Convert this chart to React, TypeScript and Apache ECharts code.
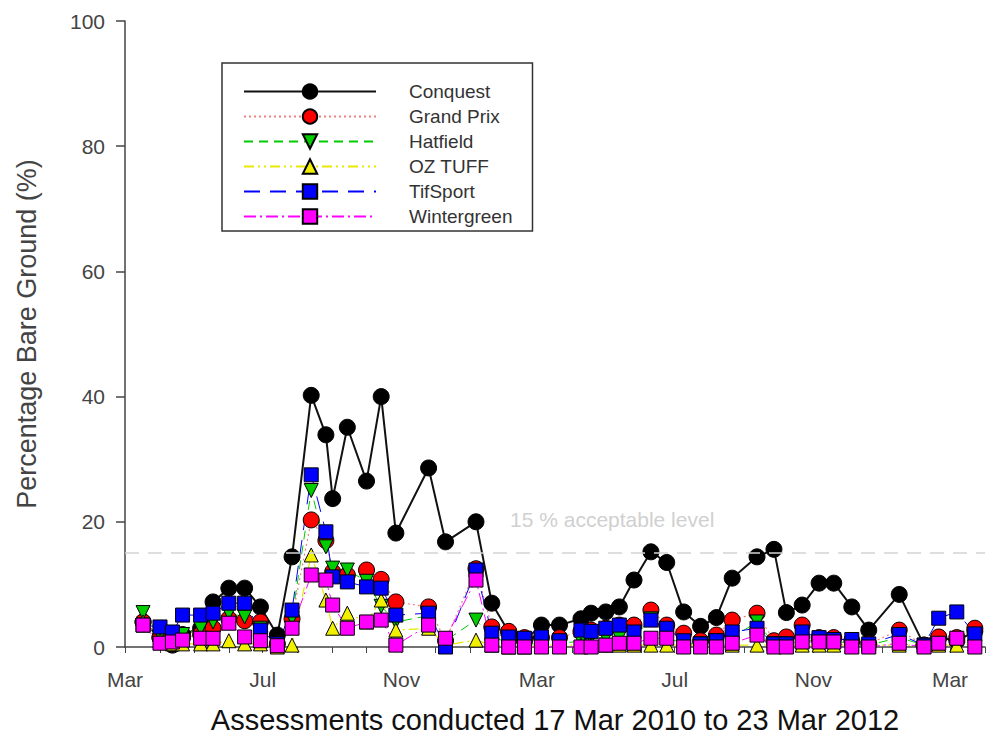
import { useEffect, useRef } from 'react';
import * as echarts from 'echarts';

// assessment dates, 17 Mar 2010 to 23 Mar 2012
const dates = [
  '2010-03-17', '2010-04-01', '2010-04-12', '2010-04-21', '2010-05-07', '2010-05-18', '2010-06-01', '2010-06-15',
  '2010-06-29', '2010-07-14', '2010-07-27', '2010-08-13', '2010-08-26', '2010-09-01', '2010-09-14', '2010-10-01',
  '2010-10-14', '2010-10-27', '2010-11-25', '2010-12-10', '2011-01-06', '2011-01-20', '2011-02-04', '2011-02-18',
  '2011-03-05', '2011-03-21', '2011-04-09', '2011-04-18', '2011-05-01', '2011-05-13', '2011-05-26', '2011-06-10',
  '2011-06-24', '2011-07-09', '2011-07-24', '2011-08-07', '2011-08-21', '2011-09-12', '2011-09-27', '2011-10-08',
  '2011-10-22', '2011-11-06', '2011-11-19', '2011-12-05', '2011-12-20', '2012-01-16', '2012-02-07', '2012-02-20',
  '2012-03-07', '2012-03-23',
];

const conquest = [
  4, 1.5, 0.3, 2, 3, 7.2, 9.4, 9.4, 6.4, 1.9,
  14.4, 40.2, 33.9, 23.7, 35.1, 26.5, 40, 18.2, 28.6, 16.8,
  20, 7.0, 2.4, 1, 3.5, 3.5, 4.5, 5.4, 5.6, 6.4,
  10.7, 15.2, 13.5, 5.6, 3.3, 4.7, 11.0, 14.4, 15.6, 5.5,
  6.7, 10.2, 10.2, 6.4, 2.7, 8.4, 0.3, 1.5, 1.0, 2.5,
];
const grandPrix = [
  4, 1.5, 1, 1.5, 2, 3.0, 4.5, 4.2, 4.0, 0.5,
  4.5, 20.3, 17, 12, 11.5, 12.3, 10.8, 7.2, 6.4, 1,
  12.5, 3.2, 2.5, 1.5, 1.5, 1.5, 2.5, 2.7, 3.0, 3.5,
  3.5, 5.9, 3.5, 2.2, 1, 1.9, 4.3, 5.4, 1, 1.6,
  3.5, 1.5, 1.5, 1, 0.5, 2.7, 0.3, 1.6, 1.5, 3.0,
];
const hatfield = [
  5.5, 2, 1.5, 2, 3, 4, 5.4, 4.8, 3, 0.5,
  4.6, 25, 16, 12.6, 12.3, 10.5, 6.5, 4, 5, 1,
  4.3, 1.5, 0.8, 0.5, 0.5, 0.5, 1, 1.5, 1.5, 1.5,
  1.5, 4.5, 1.5, 0.5, 0.5, 1, 1.5, 4.0, 0.5, 0.5,
  1, 1, 1, 0.5, 0.3, 1.5, 0.3, 0.5, 0.5, 1,
];
const ozTuff = [
  4, 1, 0.5, 0.5, 0.5, 0.5, 1, 0.5, 0.5, 0,
  0.3, 14.7, 7.5, 3, 5.4, 4, 7.5, 2.7, 3, 0.3,
  1.1, 0.3, 0, 0, 0.3, 0.3, 0.3, 0.3, 0.3, 0.3,
  0.3, 0.3, 0.3, 0.3, 0.3, 0.3, 0.3, 0.3, 0.3, 0.3,
  0.3, 0.3, 0.3, 0.3, 0.3, 0.3, 0.3, 0.3, 0.3, 0.5,
];
const tifSport = [
  3.5, 3.2, 2.4, 5.1, 5.1, 5.4, 7.0, 7.0, 2.7, 0.5,
  5.9, 27.5, 18.4, 11.2, 10.4, 9.6, 9.4, 5.1, 5.4, 0,
  12.3, 2.2, 1.6, 1.4, 1.6, 1.0, 2.7, 2.5, 3.0, 3.5,
  2.4, 4.3, 3.0, 1.0, 0.5, 1.0, 2.4, 3.0, 0.5, 0.5,
  2.4, 1.5, 1.2, 1.2, 0.5, 2.0, 0.3, 4.6, 5.6, 2.1,
];
const wintergreen = [
  3.5, 0.6, 0.8, 1.1, 1.4, 1.4, 3.8, 1.6, 1.0, 0.2,
  3.0, 11.5, 10.7, 6.7, 3.0, 4.0, 4.3, 0.3, 3.5, 1.4,
  10.7, 0.3, 0, 0, 0, 0, 0, 0, 0.3, 0.6,
  0.6, 1.4, 1.4, 0, 0, 0, 0.6, 1.9, 0, 0,
  0.8, 0.8, 0.8, 0, 0, 0.6, 0, 0.6, 1.4, 0,
];

const acceptableLevel = 15;
const monthLabels: Record<number, string> = { 2: 'Mar', 6: 'Jul', 10: 'Nov' };
const FONT = '"Liberation Sans", Arial, Helvetica, sans-serif';

function makeSeries(name: string, values: number[], color: string, symbol: string, lineType: any, extra: any = {}) {
  return {
    name,
    type: 'line',
    data: dates.map((d, i) => [d, values[i]]),
    symbol,
    symbolSize: 14,
    lineStyle: { color, width: 1, type: lineType },
    itemStyle: { color, borderColor: '#000', borderWidth: 1 },
    ...extra,
  };
}

export default function App() {
  const chartRef = useRef<HTMLDivElement>(null);

  useEffect(() => {
    if (!chartRef.current) return;
    const chart = echarts.init(chartRef.current, null, { renderer: 'svg' });

    const option: any = {
      animation: false,
      backgroundColor: '#fff',
      textStyle: { fontFamily: FONT },
      grid: { left: 125, right: 2, top: 21, bottom: 99, containLabel: false },
      legend: {
        left: 222,
        top: 63,
        orient: 'vertical',
        padding: [19, 20, 5, 21],
        borderColor: '#333',
        borderWidth: 1.5,
        itemWidth: 132,
        itemHeight: 18,
        itemGap: 6,
        textStyle: { fontSize: 19, color: '#333', fontFamily: FONT, padding: [0, 0, 0, 28] },
        data: ['Conquest', 'Grand Prix', 'Hatfield', 'OZ TUFF', 'TifSport', 'Wintergreen'],
      },
      xAxis: {
        type: 'time',
        min: '2010-03-01',
        max: '2012-04-01',
        splitNumber: 25,
        name: 'Assessments conducted 17 Mar 2010 to 23 Mar 2012',
        nameLocation: 'middle',
        nameGap: 58,
        nameTextStyle: { fontSize: 29, color: '#111', fontFamily: FONT },
        axisLine: { lineStyle: { color: '#444', width: 1.5 } },
        axisTick: { show: true, length: 6, lineStyle: { color: '#444' } },
        axisLabel: {
          fontSize: 21,
          color: '#444',
          margin: 22,
          hideOverlap: false,
          formatter: (v: number) => monthLabels[new Date(v).getMonth()] ?? '',
        },
        splitLine: { show: false },
      },
      yAxis: {
        type: 'value',
        min: 0,
        max: 100,
        interval: 20,
        name: 'Percentage Bare Ground (%)',
        nameLocation: 'middle',
        nameGap: 85,
        nameTextStyle: { fontSize: 27, color: '#444', fontFamily: FONT },
        axisLine: { show: true, lineStyle: { color: '#444', width: 1.5 } },
        axisTick: { show: true, length: 9, lineStyle: { color: '#444', width: 1.5 } },
        axisLabel: { fontSize: 21, color: '#444', margin: 20 },
        splitLine: { show: false },
      },
      graphic: [
        {
          type: 'text',
          left: 510,
          top: 509,
          style: { text: '15 % acceptable level', fontSize: 21, fill: '#d0d0d0', fontFamily: FONT },
        },
      ],
      series: [
        makeSeries('Conquest', conquest, '#000', 'circle', 'solid', {
          symbolSize: 16,
          lineStyle: { color: '#111', width: 2 },
          markLine: {
            silent: true,
            symbol: 'none',
            label: { show: false },
            lineStyle: { color: '#d4d4d4', width: 1.5, type: [14, 9] },
            data: [{ yAxis: acceptableLevel }],
          },
        }),
        makeSeries('Grand Prix', grandPrix, '#ff0000', 'circle', [2, 3], {
          symbolSize: 16,
          lineStyle: { color: '#f08080', width: 1.2, type: [2, 3] },
        }),
        makeSeries('Hatfield', hatfield, '#00cc00', 'triangle', [9, 6], { symbolRotate: 180 }),
        makeSeries('OZ TUFF', ozTuff, '#f0f000', 'triangle', [10, 4, 2, 4, 2, 4], {
          lineStyle: { color: '#e8e800', width: 1.2, type: [10, 4, 2, 4, 2, 4] },
        }),
        makeSeries('TifSport', tifSport, '#0000ff', 'rect', [16, 10]),
        makeSeries('Wintergreen', wintergreen, '#ff00ff', 'rect', [12, 4, 2, 4]),
      ],
    };

    chart.setOption(option);
    return () => chart.dispose();
  }, []);

  return (
    <div
      ref={chartRef}
      style={{ position: 'absolute', left: 0, top: 0, width: 988, height: 746, background: '#fff' }}
    />
  );
}
